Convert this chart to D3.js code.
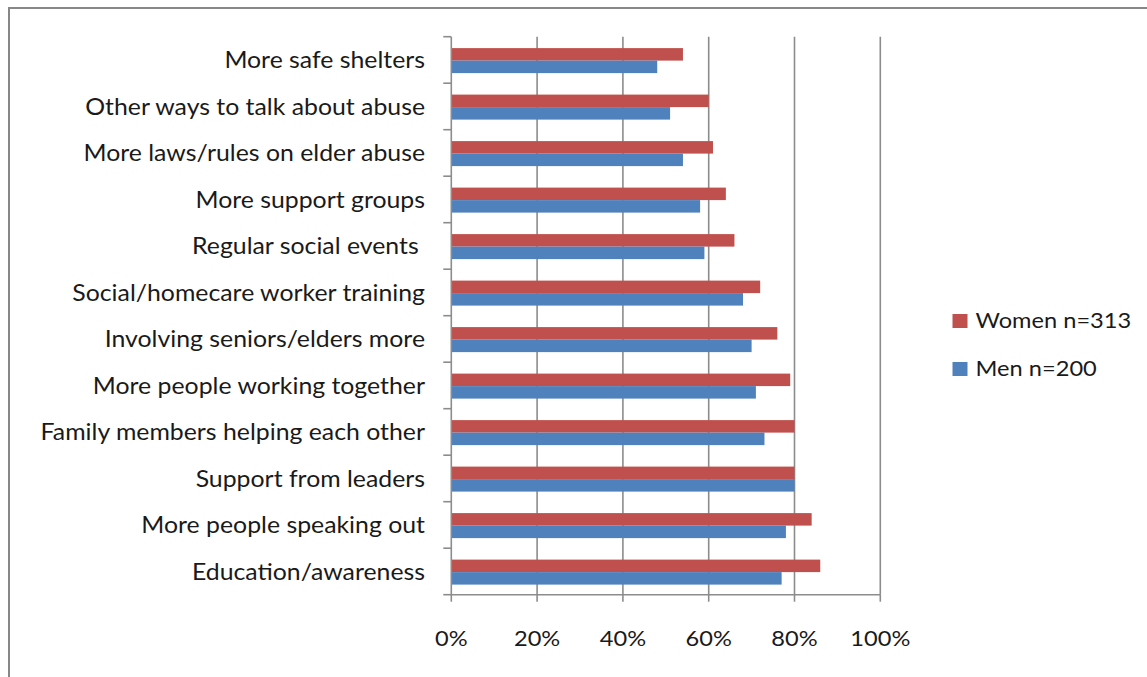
<!DOCTYPE html>
<html>
<head>
<meta charset="utf-8">
<script src="https://cdn.jsdelivr.net/npm/d3@7"></script>
<style>
  html, body { margin: 0; padding: 0; background: #fff; }
  svg { display: block; }
  text { font-family: Lato, "Open Sans", sans-serif; fill: #1a1a1a; }
</style>
</head>
<body>
<svg id="chart" width="1147" height="677"></svg>
<script>
// Categories, top to bottom
const categories = [
  "More safe shelters",
  "Other ways to talk about abuse",
  "More laws/rules on elder abuse",
  "More support groups",
  "Regular social events ",
  "Social/homecare worker training",
  "Involving seniors/elders more",
  "More people working together",
  "Family members helping each other",
  "Support from leaders",
  "More people speaking out",
  "Education/awareness"
];

// Share of respondents (%) per category
const women = [54, 60, 61, 64, 66, 72, 76, 79, 80, 80, 84, 86];
const men   = [48, 51, 54, 58, 59, 68, 70, 71, 73, 80, 78, 77];

const seriesNames = ["Women n=313", "Men n=200"];
const seriesColors = ["#C0504D", "#4F81BD"];
const tickValues = [0, 20, 40, 60, 80, 100];

// Slightly widened lettering
const stretch = 1.075;
const labelStretch = 1.08;

const svg = d3.select("#chart");

// Outer chart border
svg.append("rect")
  .attr("x", 9).attr("y", 8)
  .attr("width", 1160).attr("height", 690)
  .attr("fill", "#fff")
  .attr("stroke", "#878787")
  .attr("stroke-width", 2);

const plot = { left: 451.3, right: 880.3, top: 36.7, bottom: 594.7 };

const x = d3.scaleLinear().domain([0, 100]).range([plot.left, plot.right]);
const y = d3.scaleBand().domain(categories).range([plot.top, plot.bottom]).padding(0);
const ySeries = d3.scaleBand().domain(seriesNames).range([11.4, 36.4]).padding(0);

const rows = categories.map((c, i) => ({
  category: c,
  values: [
    { series: seriesNames[0], value: women[i], color: seriesColors[0] },
    { series: seriesNames[1], value: men[i], color: seriesColors[1] }
  ]
}));

// Vertical gridlines
svg.append("g")
  .selectAll("line")
  .data(tickValues.slice(1))
  .join("line")
  .attr("x1", d => x(d)).attr("x2", d => x(d))
  .attr("y1", plot.top).attr("y2", plot.bottom)
  .attr("stroke", "#8c8c8c")
  .attr("stroke-width", 1.6);

// Bars
const groups = svg.append("g")
  .selectAll("g")
  .data(rows)
  .join("g")
  .attr("transform", d => `translate(0,${y(d.category)})`);

groups.selectAll("rect")
  .data(d => d.values)
  .join("rect")
  .attr("x", x(0))
  .attr("y", d => ySeries(d.series))
  .attr("width", d => x(d.value) - x(0))
  .attr("height", ySeries.bandwidth())
  .attr("fill", d => d.color);

// Category axis (left)
const yAxis = svg.append("g");
yAxis.append("line")
  .attr("x1", plot.left).attr("x2", plot.left)
  .attr("y1", plot.top).attr("y2", plot.bottom)
  .attr("stroke", "#8c8c8c").attr("stroke-width", 1.6);
const boundaries = categories.map(c => y(c)).concat([plot.bottom]);
yAxis.selectAll("line.tick")
  .data(boundaries)
  .join("line")
  .attr("class", "tick")
  .attr("x1", plot.left - 8).attr("x2", plot.left)
  .attr("y1", d => d).attr("y2", d => d)
  .attr("stroke", "#8c8c8c").attr("stroke-width", 1.6);
yAxis.selectAll("text")
  .data(categories)
  .join("text")
  .attr("transform", d => `translate(425,${y(d) + y.bandwidth() / 2}) scale(${labelStretch},1)`)
  .attr("dy", "0.35em")
  .attr("text-anchor", "end")
  .attr("font-size", 23)
  .style("white-space", "pre")
  .text(d => d);

// Value axis (bottom)
const xAxis = svg.append("g");
xAxis.append("line")
  .attr("x1", plot.left).attr("x2", plot.right)
  .attr("y1", plot.bottom).attr("y2", plot.bottom)
  .attr("stroke", "#8c8c8c").attr("stroke-width", 1.6);
xAxis.selectAll("line.tick")
  .data(tickValues)
  .join("line")
  .attr("class", "tick")
  .attr("x1", d => x(d)).attr("x2", d => x(d))
  .attr("y1", plot.bottom).attr("y2", plot.bottom + 7)
  .attr("stroke", "#8c8c8c").attr("stroke-width", 1.6);
xAxis.selectAll("text")
  .data(tickValues)
  .join("text")
  .attr("transform", d => `translate(${x(d)},646) scale(${stretch},1)`)
  .attr("text-anchor", "middle")
  .attr("font-size", 22)
  .text(d => d + "%");

// Legend
const legend = svg.append("g")
  .selectAll("g")
  .data(seriesNames)
  .join("g")
  .attr("transform", (d, i) => `translate(952.5,${314 + i * 48})`);
legend.append("rect")
  .attr("width", 15).attr("height", 14)
  .attr("fill", (d, i) => seriesColors[i]);
legend.append("text")
  .attr("transform", `translate(23,14) scale(${stretch},1)`)
  .attr("font-size", 22)
  .text(d => d);
</script>
</body>
</html>
